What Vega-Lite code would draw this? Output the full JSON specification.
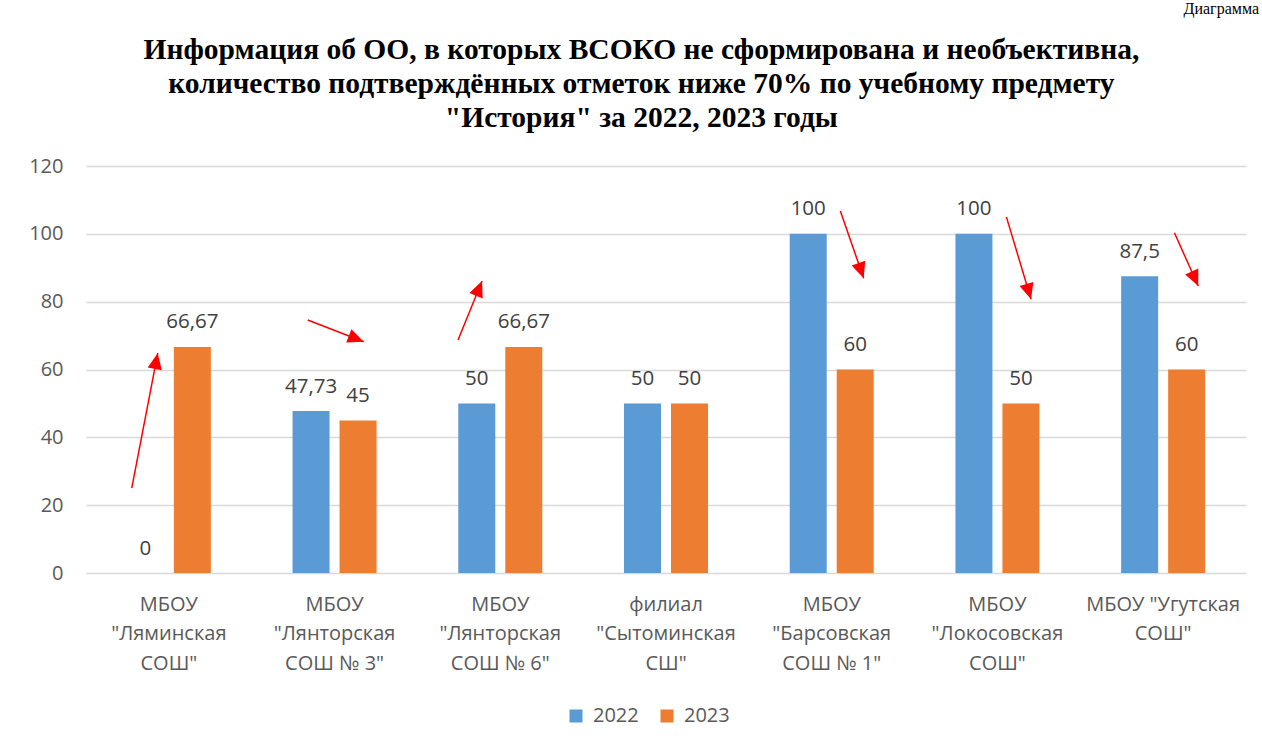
{
  "$schema": "https://vega.github.io/schema/vega-lite/v6.json",
  "padding": {"left": 28, "top": 0, "right": 17, "bottom": 10},
  "background": "white",
  "config": {
    "font": "Open Sans",
    "view": {"stroke": null},
    "locale": {"number": {"decimal": ",", "thousands": " ", "grouping": [3], "currency": ["", ""]}},
    "axisY": {
      "title": null,
      "domain": false,
      "ticks": false,
      "labelFont": "Open Sans",
      "labelFontSize": 20,
      "labelColor": "#595959",
      "labelPadding": 23,
      "gridColor": "#d9d9d9",
      "gridWidth": 1.4
    }
  },
  "title": {
    "text": "Диаграмма",
    "anchor": "end",
    "font": "Liberation Serif",
    "fontSize": 16,
    "fontWeight": "normal",
    "color": "#000000",
    "dy": -18,
    "dx": 13,
    "offset": 0
  },
  "datasets": {
    "scores": [
      {"school": "МБОУ\n\"Ляминская\nСОШ\"", "year": "2022", "value": 0},
      {"school": "МБОУ\n\"Ляминская\nСОШ\"", "year": "2023", "value": 66.67},
      {"school": "МБОУ\n\"Лянторская\nСОШ № 3\"", "year": "2022", "value": 47.73},
      {"school": "МБОУ\n\"Лянторская\nСОШ № 3\"", "year": "2023", "value": 45},
      {"school": "МБОУ\n\"Лянторская\nСОШ № 6\"", "year": "2022", "value": 50},
      {"school": "МБОУ\n\"Лянторская\nСОШ № 6\"", "year": "2023", "value": 66.67},
      {"school": "филиал\n\"Сытоминская\nСШ\"", "year": "2022", "value": 50},
      {"school": "филиал\n\"Сытоминская\nСШ\"", "year": "2023", "value": 50},
      {"school": "МБОУ\n\"Барсовская\nСОШ № 1\"", "year": "2022", "value": 100},
      {"school": "МБОУ\n\"Барсовская\nСОШ № 1\"", "year": "2023", "value": 60},
      {"school": "МБОУ\n\"Локосовская\nСОШ\"", "year": "2022", "value": 100},
      {"school": "МБОУ\n\"Локосовская\nСОШ\"", "year": "2023", "value": 50},
      {"school": "МБОУ \"Угутская\nСОШ\"", "year": "2022", "value": 87.5},
      {"school": "МБОУ \"Угутская\nСОШ\"", "year": "2023", "value": 60}
    ],
    "arrows": [
      {"id": 1, "x1": 0.276, "y1": 25.0, "x2": 0.433, "y2": 64.8},
      {"id": 2, "x1": 1.338, "y1": 74.6, "x2": 1.676, "y2": 68.2},
      {"id": 3, "x1": 2.245, "y1": 68.7, "x2": 2.39, "y2": 86.1},
      {"id": 4, "x1": 4.552, "y1": 106.7, "x2": 4.693, "y2": 86.9},
      {"id": 5, "x1": 5.554, "y1": 105.0, "x2": 5.703, "y2": 80.7},
      {"id": 6, "x1": 6.568, "y1": 100.3, "x2": 6.712, "y2": 84.6}
    ]
  },
  "vconcat": [
    {
      "width": 1160,
      "height": 407,
      "title": {
        "text": [
          "Информация об ОО, в которых ВСОКО не сформирована и необъективна,",
          "количество подтверждённых отметок ниже 70% по учебному предмету",
          "\"История\" за 2022, 2023 годы"
        ],
        "font": "Liberation Serif",
        "fontSize": 29.5,
        "fontWeight": "bold",
        "color": "#000000",
        "lineHeight": 34,
        "anchor": "middle",
        "frame": "bounds",
        "dx": 4,
        "offset": 23
      },
      "layer": [
        {
          "data": {"name": "scores"},
          "encoding": {
            "x": {
              "field": "school",
              "type": "nominal",
              "sort": null,
              "scale": {"paddingInner": 0.4931, "paddingOuter": 0.2465},
              "axis": {
                "title": null,
                "domain": false,
                "ticks": false,
                "labelAngle": 0,
                "labelExpr": "split(datum.value, '\\n')",
                "labelFont": "Open Sans",
                "labelFontSize": 20,
                "labelLineHeight": 29.7,
                "labelColor": "#595959",
                "labelPadding": 21,
                "labelBaseline": "top",
                "labelLimit": 300
              }
            },
            "xOffset": {
              "field": "year",
              "type": "nominal",
              "scale": {"paddingInner": 0.2128, "paddingOuter": 0}
            },
            "y": {
              "field": "value",
              "type": "quantitative",
              "scale": {"domain": [0, 120], "nice": false},
              "axis": {"title": null, "values": [0, 20, 40, 60, 80, 100, 120]}
            }
          },
          "layer": [
            {
              "mark": {"type": "bar"},
              "encoding": {
                "color": {
                  "field": "year",
                  "type": "nominal",
                  "scale": {"domain": ["2022", "2023"], "range": ["#5B9BD5", "#ED7D31"]},
                  "legend": {
                    "title": null,
                    "orient": "none",
                    "direction": "horizontal",
                    "legendX": 480,
                    "legendY": 540,
                    "symbolType": "square",
                    "symbolSize": 169,
                    "symbolStrokeWidth": 0,
                    "labelFont": "Open Sans",
                    "labelFontSize": 20,
                    "labelColor": "#595959",
                    "labelOffset": 7,
                    "columnPadding": 18,
                    "padding": 0
                  }
                }
              }
            },
            {
              "mark": {"type": "text", "baseline": "alphabetic", "dy": -18.5, "fontSize": 20.5, "font": "Open Sans", "color": "#404040"},
              "encoding": {
                "text": {"field": "value", "type": "quantitative", "format": ".2~f"}
              }
            }
          ]
        },
        {
          "data": {"name": "arrows"},
          "transform": [
            {"calculate": "atan2((datum.x2 - datum.x1) * 165.71, (datum.y2 - datum.y1) * 3.392) * 180 / PI", "as": "angle"}
          ],
          "layer": [
            {
              "mark": {"type": "rule", "color": "#FF0000", "strokeWidth": 1.5},
              "encoding": {
                "x": {"field": "x1", "type": "quantitative", "scale": {"domain": [0, 7], "nice": false, "zero": false}, "axis": null},
                "x2": {"field": "x2"},
                "y": {"field": "y1", "type": "quantitative", "axis": {"title": null, "values": [0, 20, 40, 60, 80, 100, 120]}},
                "y2": {"field": "y2"}
              }
            },
            {
              "mark": {"type": "point", "shape": "M0,0L0.45,1L-0.45,1Z", "filled": true, "color": "#FF0000", "opacity": 1, "size": 1024},
              "encoding": {
                "x": {"field": "x2", "type": "quantitative", "scale": {"domain": [0, 7], "nice": false, "zero": false}, "axis": null},
                "y": {"field": "y2", "type": "quantitative", "axis": {"title": null, "values": [0, 20, 40, 60, 80, 100, 120]}},
                "angle": {"field": "angle", "type": "quantitative", "scale": null}
              }
            }
          ]
        }
      ],
      "resolve": {"scale": {"x": "independent"}}
    }
  ]
}
